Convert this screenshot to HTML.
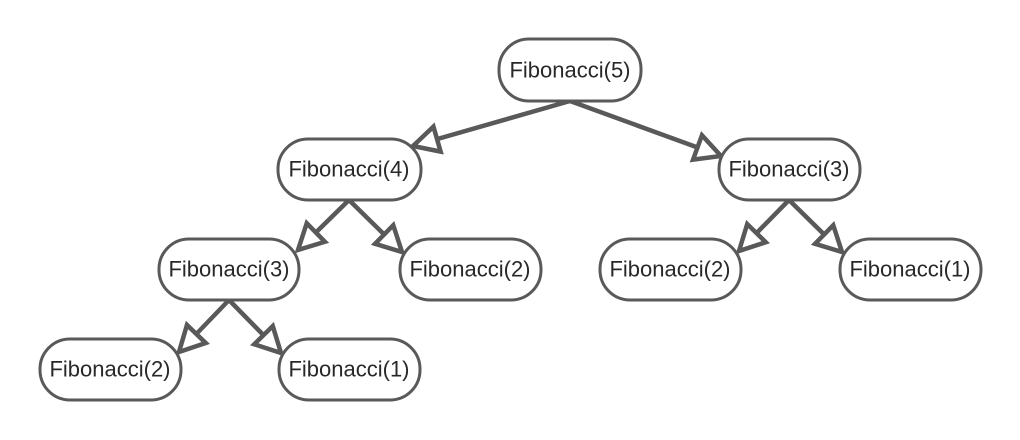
<!DOCTYPE html>
<html><head><meta charset="utf-8"><style>
html,body{margin:0;padding:0;background:#fff;}
svg{display:block}
text{font-family:"Liberation Sans",Arial,sans-serif;font-size:22px;fill:#282828;text-anchor:middle;dominant-baseline:central}
</style></head><body>
<svg width="1020" height="440" viewBox="0 0 1020 440" xmlns="http://www.w3.org/2000/svg">
<defs>
<marker id="a" markerUnits="userSpaceOnUse" markerWidth="34" markerHeight="34" refX="28" refY="16" orient="auto" viewBox="0 0 34 32">
<path d="M3,3 L28,16 L3,29 Z" fill="#fff" stroke="#595959" stroke-width="4.5" stroke-linejoin="miter"/>
</marker>
</defs>
<g stroke="#595959" stroke-width="4.5" fill="none" marker-end="url(#a)">
<line x1="570" y1="101" x2="413" y2="146"/>
<line x1="570" y1="101" x2="721" y2="156"/>
<line x1="349" y1="200" x2="298" y2="250"/>
<line x1="349" y1="200" x2="402" y2="252"/>
<line x1="229" y1="300" x2="179" y2="352"/>
<line x1="229" y1="300" x2="281" y2="353"/>
<line x1="789" y1="200" x2="739" y2="251"/>
<line x1="789" y1="200" x2="842" y2="252"/>
</g>
<g stroke="#595959" stroke-width="3" fill="#fff">
<rect x="499" y="39" width="142" height="62" rx="30"/>
<rect x="278" y="139" width="143" height="61" rx="30"/>
<rect x="719" y="139" width="141" height="61" rx="30"/>
<rect x="159" y="239" width="140" height="61" rx="30"/>
<rect x="400" y="239" width="141" height="61" rx="30"/>
<rect x="600" y="239" width="141" height="61" rx="30"/>
<rect x="840" y="239" width="141" height="61" rx="30"/>
<rect x="40" y="339" width="141" height="61" rx="30"/>
<rect x="279" y="339" width="141" height="61" rx="30"/>
</g>
<text x="570" y="70">Fibonacci(5)</text>
<text x="349" y="169">Fibonacci(4)</text>
<text x="789" y="169">Fibonacci(3)</text>
<text x="229" y="269">Fibonacci(3)</text>
<text x="470" y="269">Fibonacci(2)</text>
<text x="670" y="269">Fibonacci(2)</text>
<text x="910" y="269">Fibonacci(1)</text>
<text x="110" y="369">Fibonacci(2)</text>
<text x="349" y="369">Fibonacci(1)</text>
</svg>
</body></html>
